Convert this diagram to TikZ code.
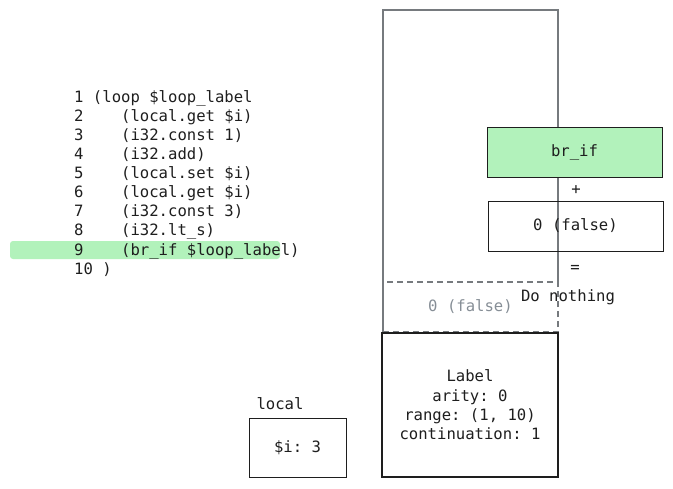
\documentclass[tikz,border=0pt]{standalone}
\usepackage{fontspec}
\setmonofont{DejaVu Sans Mono}
\definecolor{framegray}{HTML}{767A7E}
\definecolor{ink}{HTML}{1E1E1E}
\definecolor{softgreen}{HTML}{B2F2BB}
\definecolor{dimtext}{HTML}{868E96}
\tikzset{
  every node/.style={font=\ttfamily\fontsize{15.6}{19.3}\selectfont, text=ink, inner sep=0pt},
  codeline/.style={anchor=west},
  boxnode/.style={draw=ink, line width=1pt, minimum width=175pt, minimum height=50pt},
  greenbox/.style={boxnode, fill=softgreen},
  ghostbox/.style={draw=framegray, dashed, dash pattern=on 6pt off 4pt, line width=1.2pt, minimum width=175pt, minimum height=50pt, text=dimtext},
  labelbox/.style={draw=ink, line width=2pt, minimum width=176pt, minimum height=144pt, align=center},
  localbox/.style={draw=ink, line width=1pt, minimum width=97pt, minimum height=59pt},
  frameline/.style={draw=framegray, line width=1.5pt}
}
\begin{document}
\begin{tikzpicture}[x=1pt,y=-1pt]
\useasboundingbox (0,0) rectangle (673,488);
% highlight bar
\fill[softgreen, rounded corners=3pt] (10,241) rectangle (280,259);
% code
\node[codeline] (l1) at (74,98) {1 (loop \$loop\_label};
\node[codeline] (l2) at (74,117) {2\ \ \ \ (local.get \$i)};
\node[codeline] (l3) at (74,136) {3\ \ \ \ (i32.const 1)};
\node[codeline] (l4) at (74,155) {4\ \ \ \ (i32.add)};
\node[codeline] (l5) at (74,174) {5\ \ \ \ (local.set \$i)};
\node[codeline] (l6) at (74,193) {6\ \ \ \ (local.get \$i)};
\node[codeline] (l7) at (74,212) {7\ \ \ \ (i32.const 3)};
\node[codeline] (l8) at (74,231) {8\ \ \ \ (i32.lt\_s)};
\node[codeline] (l9) at (74,251) {9\ \ \ \ (br\_if \$loop\_label)};
\node[codeline] (l10) at (74,270) {10 )};
% stack frame
\coordinate (ftl) at (383,10);
\coordinate (ftr) at (558,10);
\coordinate (fbl) at (383,332);
\coordinate (fbr) at (558,282);
\draw[frameline] (fbl) -- (ftl) -- (ftr) -- (fbr);
% ghost value
\node[ghostbox] (ghost) at (470.5,307) {0 (false)};
% label box
\node[labelbox] (label) at (470,405) {Label\\arity: 0\\range: (1, 10)\\continuation: 1};
% br_if
\node[greenbox] (brif) at (574.5,152) {br\_if};
\node (plus) at (576,190) {+};
\node[boxnode] (val) at (575.5,226) {0 (false)};
\node (eq) at (575,269) {=};
\node (nothing) at (568,297) {Do nothing};
% local
\node (localtitle) at (280,404) {local};
\node[localbox] (localbox) at (297.5,447.5) {\$i: 3};
\end{tikzpicture}
\end{document}
